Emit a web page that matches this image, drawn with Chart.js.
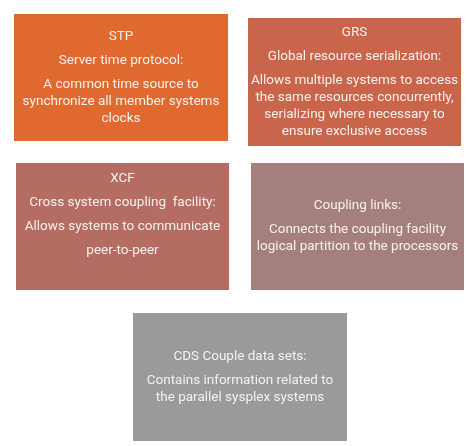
<!DOCTYPE html>
<html>
<head>
<meta charset="utf-8">
<script src="https://cdn.jsdelivr.net/npm/chart.js@4/dist/chart.umd.min.js"></script>
<style>
  html, body { margin: 0; padding: 0; background: #ffffff; }
  #wrap { width: 473px; height: 446px; }
</style>
</head>
<body>
<div id="wrap"><canvas id="sysplexChart" width="473" height="446"></canvas></div>
<script>
// box content
var boxTitles = ["STP", "GRS", "XCF", "", ""];
var boxSubtitles = [
    "Server time protocol:",
    "Global resource serialization:",
    "Cross system coupling  facility:",
    "Coupling links:",
    "CDS Couple data sets:"
];
var boxDescriptions = [
    [["A common time source to", "synchronize all member systems", "clocks"]],
    [["Allows multiple systems to access", "the same resources concurrently,", "serializing where necessary to", "ensure exclusive access"]],
    [["Allows systems to communicate"], ["peer-to-peer"], [""]],
    [["Connects the coupling facility", "logical partition to the processors"]],
    [["Contains information related to", "the parallel sysplex systems"]]
];

// layout (in scale units, the scales run 0..473 by 0..446)
var boxLayout = [
    { x0: 14, x1: 228, y0: 14, y1: 141 },
    { x0: 248, x1: 461, y0: 18, y1: 146 },
    { x0: 16, x1: 229, y0: 163, y1: 290 },
    { x0: 251, x1: 464, y0: 163, y1: 290 },
    { x0: 133, x1: 347, y0: 313, y1: 441 }
];
var boxColors = ["#E0692F", "#C9654B", "#B56C62", "#A47F7D", "#9A9A9A"];
var textColor = "#F6F1EE";
var paraGap = 24;
var lineGap = 17;

var boxPlugin = {
    id: "boxes",
    afterDatasetsDraw: function (chart) {
        var ctx = chart.ctx;
        var xs = chart.scales.x;
        var ys = chart.scales.y;
        ctx.save();
        boxLayout.forEach(function (b, i) {
            var left = xs.getPixelForValue(b.x0);
            var right = xs.getPixelForValue(b.x1);
            var top = ys.getPixelForValue(b.y0);
            var bottom = ys.getPixelForValue(b.y1);
            ctx.fillStyle = boxColors[i];
            ctx.fillRect(left, top, right - left, bottom - top);

            // collect lines with their offsets
            var lines = [];
            var y = 0;
            if (boxTitles[i]) {
                lines.push({ text: boxTitles[i], y: y });
                y += paraGap;
            }
            lines.push({ text: boxSubtitles[i], y: y });
            boxDescriptions[i].forEach(function (para) {
                y += paraGap;
                para.forEach(function (line, k) {
                    if (k > 0) y += lineGap;
                    lines.push({ text: line, y: y });
                });
            });
            var start = (top + bottom) / 2 - y / 2;
            var cx = (left + right) / 2;
            ctx.fillStyle = textColor;
            ctx.font = "13.5px Roboto";
            ctx.textAlign = "center";
            ctx.textBaseline = "middle";
            lines.forEach(function (l) {
                if (l.text) ctx.fillText(l.text, cx, start + l.y);
            });
        });
        ctx.restore();
    }
};

document.addEventListener("DOMContentLoaded", function () {
    var ctx = document.getElementById("sysplexChart").getContext("2d");
    new Chart(ctx, {
        type: "scatter",
        data: { datasets: [{ data: [] }] },
        options: {
            responsive: false,
            animation: false,
            layout: { padding: 0 },
            plugins: { legend: { display: false }, tooltip: { enabled: false } },
            scales: {
                x: { type: "linear", min: 0, max: 473, display: false },
                y: { type: "linear", min: 0, max: 446, reverse: true, display: false }
            }
        },
        plugins: [boxPlugin]
    });
});
</script>
</body>
</html>
